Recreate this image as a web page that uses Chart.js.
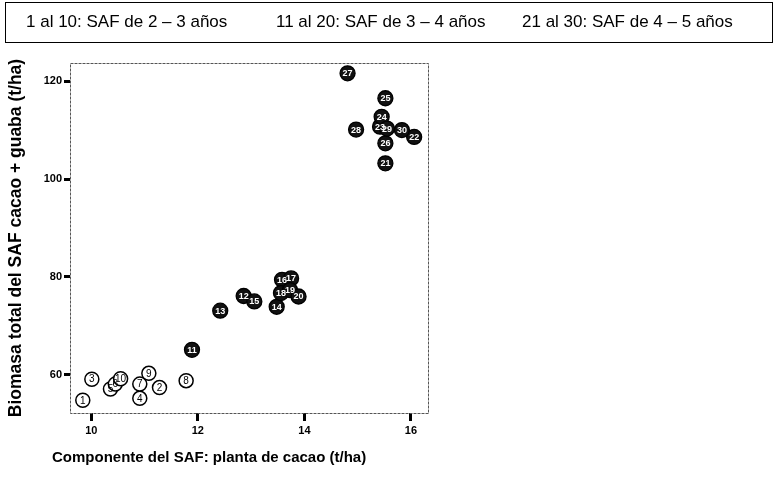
<!DOCTYPE html>
<html>
<head>
<meta charset="utf-8">
<script src="https://cdn.jsdelivr.net/npm/chart.js@4"></script>
<style>
  body { margin: 0; background: #fff; }
  #wrap { position: relative; width: 778px; height: 483px; font-family: "Liberation Sans", Arial, sans-serif; }
  #leyenda { position: absolute; left: 5px; top: 2px; width: 766px; height: 39px; border: 1.5px solid #000; }
  #leyenda span { position: absolute; top: 9px; font-size: 17px; color: #000; white-space: nowrap; }
  #tituloX { position: absolute; left: 52px; top: 448px; font-size: 15px; font-weight: bold; color: #000; white-space: nowrap; }
  canvas { position: absolute; left: 0; top: 0; }
</style>
</head>
<body>
<div id="wrap">
  <canvas id="grafico" width="778" height="483"></canvas>
  <div id="leyenda">
    <span style="left:20px">1 al 10: SAF de 2 – 3 años</span>
    <span style="left:270px">11 al 20: SAF de 3 – 4 años</span>
    <span style="left:516px">21 al 30: SAF de 4 – 5 años</span>
  </div>
  <div id="tituloX">Componente del SAF: planta de cacao (t/ha)</div>
</div>
<script>
// SAF de 2-3 años (1 al 10)
const num1 = [1, 2, 3, 4, 5, 6, 7, 8, 9, 10];
const cacao1 = [9.84, 11.28, 10.01, 10.91, 10.36, 10.45, 10.91, 11.78, 11.08, 10.55];
const biomasa1 = [54.8, 57.4, 59.1, 55.2, 57.1, 58.1, 58.1, 58.8, 60.3, 59.2];

// SAF de 3-4 años (11 al 20)
const num2 = [11, 12, 13, 14, 15, 16, 17, 18, 19, 20];
const cacao2 = [11.89, 12.86, 12.42, 13.48, 13.06, 13.58, 13.75, 13.56, 13.73, 13.89];
const biomasa2 = [65.1, 76.1, 73.1, 73.9, 75.0, 79.4, 79.7, 76.7, 77.3, 76.0];

// SAF de 4-5 años (21 al 30)
const num3 = [21, 22, 23, 24, 25, 26, 27, 28, 29, 30];
const cacao3 = [15.52, 16.06, 15.42, 15.45, 15.52, 15.52, 14.81, 14.97, 15.55, 15.83];
const biomasa3 = [103.2, 108.6, 110.7, 112.7, 116.5, 107.3, 121.6, 110.1, 110.3, 110.0];

const ticksX = [10, 12, 14, 16];
const ticksY = [60, 80, 100, 120];

function puntos(xs, ys, ns) {
  return xs.map((x, i) => ({ x: x, y: ys[i], n: ns[i] }));
}

// numero dentro de cada circulo
const numeros = {
  id: 'numeros',
  afterDatasetsDraw(chart) {
    const ctx = chart.ctx;
    ctx.save();
    ctx.textAlign = 'center';
    ctx.textBaseline = 'middle';
    chart.data.datasets.forEach((ds, i) => {
      const meta = chart.getDatasetMeta(i);
      ctx.fillStyle = ds.colorTexto;
      ctx.font = ds.fuenteTexto;
      meta.data.forEach((p, j) => {
        ctx.fillText(String(ds.data[j].n), p.x, p.y + 0.5);
      });
    });
    ctx.restore();
  }
};

// marco punteado del area
const marco = {
  id: 'marco',
  beforeDatasetsDraw(chart) {
    const a = chart.chartArea;
    const ctx = chart.ctx;
    ctx.save();
    ctx.strokeStyle = '#555';
    ctx.lineWidth = 1;
    ctx.setLineDash([3, 1]);
    ctx.strokeRect(a.left + 0.5, a.top + 0.5, a.right - a.left, a.bottom - a.top);
    ctx.restore();
  }
};

new Chart(document.getElementById('grafico'), {
  type: 'scatter',
  data: {
    datasets: [
      {
        data: puntos(cacao1, biomasa1, num1),
        pointRadius: 7, pointHoverRadius: 7,
        backgroundColor: '#fff', borderColor: '#000', borderWidth: 1.5,
        colorTexto: '#000', fuenteTexto: '10px "Liberation Sans", Arial'
      },
      {
        data: puntos(cacao2, biomasa2, num2),
        pointRadius: 7.5, pointHoverRadius: 7.5,
        backgroundColor: '#111', borderColor: '#000', borderWidth: 1.3,
        colorTexto: '#fff', fuenteTexto: 'bold 9px "Liberation Sans", Arial'
      },
      {
        data: puntos(cacao3, biomasa3, num3),
        pointRadius: 7.5, pointHoverRadius: 7.5,
        backgroundColor: '#111', borderColor: '#000', borderWidth: 1.3,
        colorTexto: '#fff', fuenteTexto: 'bold 9px "Liberation Sans", Arial'
      }
    ]
  },
  options: {
    responsive: false,
    animation: false,
    devicePixelRatio: 1,
    layout: { padding: { left: 0, top: 63, right: 350, bottom: 0 } },
    plugins: { legend: { display: false }, tooltip: { enabled: false } },
    scales: {
      x: {
        type: 'linear',
        min: 9.6, max: 16.32,
        afterFit(scale) { scale.height = 70; },
        afterBuildTicks(scale) { scale.ticks = ticksX.map(v => ({ value: v })); },
        grid: { drawOnChartArea: false, drawTicks: true, tickLength: 8, tickWidth: 3, tickColor: '#000' },
        border: { display: false },
        ticks: { color: '#000', padding: 3, font: { family: '"Liberation Sans", Arial', size: 11, weight: 'bold' } }
      },
      y: {
        type: 'linear',
        min: 52.2, max: 123.7,
        afterFit(scale) { scale.width = 70; },
        afterBuildTicks(scale) { scale.ticks = ticksY.map(v => ({ value: v })); },
        grid: { drawOnChartArea: false, drawTicks: true, tickLength: 6, tickWidth: 3, tickColor: '#000' },
        border: { display: false },
        ticks: { color: '#000', padding: 2, font: { family: '"Liberation Sans", Arial', size: 11, weight: 'bold' } },
        title: {
          display: true,
          text: 'Biomasa total del SAF cacao + guaba (t/ha)',
          color: '#000',
          padding: { top: 6, bottom: 0 },
          font: { family: '"Liberation Sans", Arial', size: 17.5, weight: 'bold' }
        }
      }
    }
  },
  plugins: [marco, numeros]
});
</script>
</body>
</html>
